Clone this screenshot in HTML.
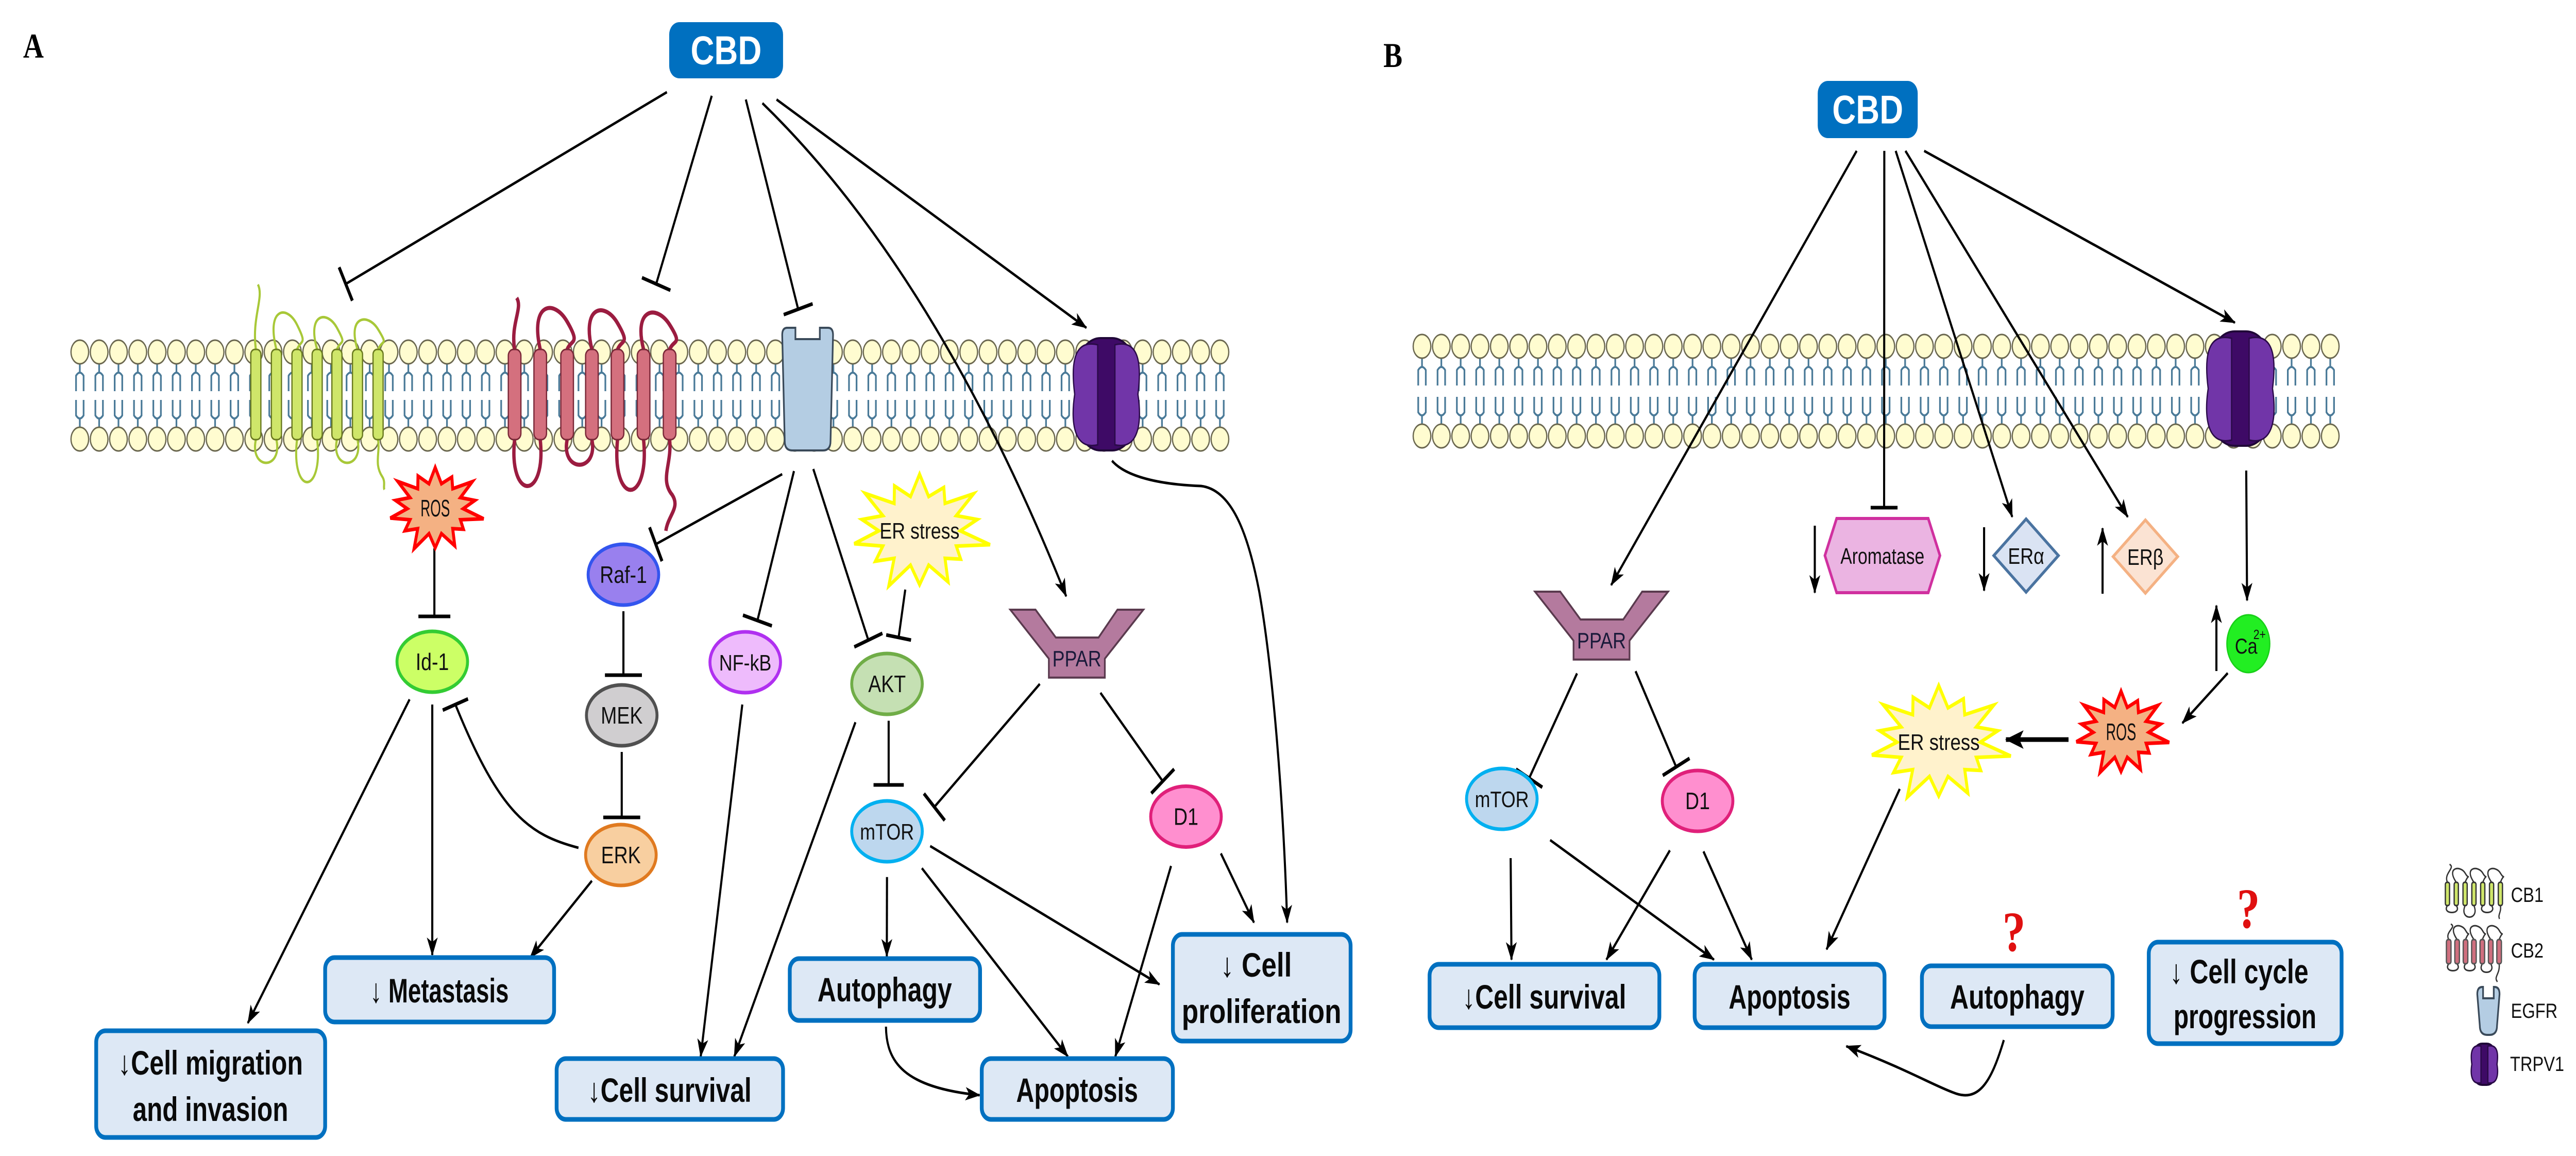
<!DOCTYPE html>
<html><head><meta charset="utf-8">
<style>
html,body{margin:0;padding:0;background:#fff;width:100%;height:100%;overflow:hidden;}
svg{display:block;width:100vw;height:100vh;}
text{font-family:"Liberation Sans Narrow","Liberation Sans",sans-serif;}
</style></head>
<body>
<svg id="s" xmlns="http://www.w3.org/2000/svg" viewBox="0 0 6132 2243" preserveAspectRatio="none">
<defs>
<marker id="ar" markerUnits="userSpaceOnUse" markerWidth="40" markerHeight="30" refX="34" refY="15" orient="auto">
<path d="M0,2 L36,15 L0,28 L9,15 z" fill="#000"/>
</marker>
<marker id="arB" markerUnits="userSpaceOnUse" markerWidth="48" markerHeight="40" refX="42" refY="20" orient="auto">
<path d="M0,2 L44,20 L0,38 L10,20 z" fill="#000"/>
</marker>
</defs>
<rect width="6132" height="2243" fill="#fff"/>
</svg>
<script>
const S=document.getElementById('s');const NS='http://www.w3.org/2000/svg';
function el(t,a,txt){const e=document.createElementNS(NS,t);for(const k in a)e.setAttribute(k,a[k]);if(txt!==undefined)e.textContent=txt;S.appendChild(e);return e;}
const A=(x,y)=>[x*1.977,y*1.43];
const B=(x,y)=>[3100+x*1.935,y*1.428];
const SW=5;
function arrow(p,q,big){el('line',{x1:p[0],y1:p[1],x2:q[0],y2:q[1],stroke:'#000','stroke-width':big?9:SW,'marker-end':big?'url(#arB)':'url(#ar)'});}
function tbar(q,dx,dy,h){const L=Math.hypot(dx,dy);const px=-dy/L*(h||36),py=dx/L*(h||36);
 el('line',{x1:q[0]+px,y1:q[1]+py,x2:q[0]-px,y2:q[1]-py,stroke:'#000','stroke-width':7});}
function tline(p,q,h){el('line',{x1:p[0],y1:p[1],x2:q[0],y2:q[1],stroke:'#000','stroke-width':SW});tbar(q,q[0]-p[0],q[1]-p[1],h);}
function node(c,label,fill,stroke,fs){el('ellipse',{cx:c[0],cy:c[1],rx:84,ry:59,fill:fill,stroke:stroke,'stroke-width':7});
 el('text',{x:c[0],y:c[1]+16,'font-size':fs||46,'text-anchor':'middle',fill:'#111'},label);}
function box(x0,y0,x1,y1,lines){el('rect',{x:x0,y:y0,width:x1-x0,height:y1-y0,rx:22,fill:'#dde8f5',stroke:'#0070c0','stroke-width':9});
 lines.forEach(l=>{const t=el('text',{x:l[0],y:l[1],'font-size':l[3]||66,'font-weight':'bold',fill:'#0a0a0a','text-anchor':'middle'},l[2]);if(l[4])t.setAttribute('textLength',l[4]),t.setAttribute('lengthAdjust','spacingAndGlyphs');});}
function burst(cx,cy,w,h,fill,stroke,label,fs,tl){const n=14;let pts=[];const jit=[1,.85,1.05,.9,1.1,.8,1,.95,1.08,.86,1.02,.9,1.06,.88];
 for(let i=0;i<2*n;i++){const a=-Math.PI/2+i*Math.PI/n;const r=i%2==0?jit[(i/2)%14]:0.62;pts.push((cx+Math.cos(a)*w/2*r).toFixed(1)+','+(cy+Math.sin(a)*h/2*r).toFixed(1));}
 el('polygon',{points:pts.join(' '),fill:fill,stroke:stroke,'stroke-width':7,'stroke-linejoin':'miter'});
 const t=el('text',{x:cx,y:cy+15,'font-size':fs,'text-anchor':'middle',fill:'#111'},label);if(tl){t.setAttribute('textLength',tl);t.setAttribute('lengthAdjust','spacingAndGlyphs');}}
function ppar(x0,y0,sx,sy){const P=[[160,100],[340,100],[485,262],[790,262],[925,100],[1110,100],[835,385],[835,495],[435,495],[435,385]];
 const pts=P.map(p=>(x0+(p[0]-160)/3*sx).toFixed(1)+','+(y0+(p[1]-100)/3*sy).toFixed(1)).join(' ');
 el('polygon',{points:pts,fill:'#b47a9e',stroke:'#5a3a4e','stroke-width':4});
 el('text',{x:x0+(635-160)/3*sx,y:y0+(430-100)/3*sy,'font-size':44,'text-anchor':'middle',fill:'#1a1a3a'},'PPAR');}
function membrane(x0,x1,yt,yb){
 for(let x=x0;x<=x1;x+=46){
  const st='#4a7a98';
  el('path',{d:`M${x},${yt+22} V${yt+40} M${x-9},${yt+76} V${yt+46} Q${x},${yt+34} ${x+9},${yt+46} V${yt+76}`,stroke:st,'stroke-width':4,fill:'none'});
  el('path',{d:`M${x},${yb-22} V${yb-40} M${x-9},${yb-76} V${yb-46} Q${x},${yb-34} ${x+9},${yb-46} V${yb-76}`,stroke:st,'stroke-width':4,fill:'none'});
  el('ellipse',{cx:x,cy:yt,rx:21,ry:23,fill:'#fffcd0',stroke:'#6b6850','stroke-width':3});
  el('ellipse',{cx:x,cy:yb,rx:21,ry:23,fill:'#fffcd0',stroke:'#6b6850','stroke-width':3});
 }}
function gpcr(xs,w,fill,hs,loop,lw,top,bot,upH,dnH,cterm){
 let d=`M${xs[0]},${top} C${xs[0]-10},${top-upH[0]*0.5} ${xs[0]+20},${top-upH[0]*0.8} ${xs[0]+5},${top-upH[0]}`;
 el('path',{d:d,stroke:loop,'stroke-width':lw,fill:'none'});
 for(let i=0;i<xs.length-1;i++){
  const a=xs[i],b=xs[i+1];
  if(i%2==0){const h=dnH[i/2];el('path',{d:`M${a},${bot} C${a-15},${bot+h} ${b+15},${bot+h} ${b},${bot}`,stroke:loop,'stroke-width':lw,fill:'none'});}
  else{const h=upH[(i+1)/2];el('path',{d:`M${a},${top} C${a-25},${top-h} ${(a+b)/2},${top-h*1.1} ${b},${top-h*0.6} S${b+10},${top-20} ${b},${top}`,stroke:loop,'stroke-width':lw,fill:'none'});}
 }
 el('path',{d:cterm,stroke:loop,'stroke-width':lw,fill:'none'});
 xs.forEach(x=>el('rect',{x:x-w/2,y:top,width:w,height:bot-top,rx:w/2.5,fill:fill,stroke:hs,'stroke-width':3}));
}
function egfr(x0,y0,x1,y1){const w=x1-x0;
 el('path',{d:`M${x0+12},${y0} H${x0+w*0.26} V${y0+22} H${x0+w*0.74} V${y0} H${x1-12} Q${x1},${y0} ${x1},${y0+14} L${x1-6},${y1-18} Q${x1-6},${y1} ${x1-24},${y1} H${x0+24} Q${x0+6},${y1} ${x0+6},${y1-18} L${x0},${y0+14} Q${x0},${y0} ${x0+12},${y0} Z`,fill:'#b4cde3',stroke:'#3a4a5a','stroke-width':4});}
function trpv(x0,y0,x1,y1){const w=x1-x0,h=y1-y0;
 el('rect',{x:x0+w*0.12,y:y0,width:w*0.76,height:h,rx:w*0.3,fill:'#3e0a66',stroke:'#200838','stroke-width':4});
 el('path',{d:`M${x0+w*0.38},${y0+h*0.06} C${x0},${y0} ${x0+w*0.02},${y0+h*0.3} ${x0+w*0.06},${y0+h*0.5} C${x0},${y0+h*0.75} ${x0+w*0.05},${y1} ${x0+w*0.38},${y1-h*0.05} Z`,fill:'#7135a8',stroke:'#2a0a48','stroke-width':3});
 el('path',{d:`M${x1-w*0.38},${y0+h*0.06} C${x1},${y0} ${x1-w*0.02},${y0+h*0.3} ${x1-w*0.06},${y0+h*0.5} C${x1},${y0+h*0.75} ${x1-w*0.05},${y1} ${x1-w*0.38},${y1-h*0.05} Z`,fill:'#7135a8',stroke:'#2a0a48','stroke-width':3});
}
function cbd(x0,y0,x1,y1){el('rect',{x:x0,y:y0,width:x1-x0,height:y1-y0,rx:24,fill:'#0070c0'});
 el('text',{x:(x0+x1)/2,y:(y0+y1)/2+27,'font-size':78,'font-weight':'bold','text-anchor':'middle',fill:'#fff'},'CBD');}

/* ============ PANEL A ============ */
el('text',{x:55,y:112,'font-size':68,'font-weight':'bold',style:'font-family:"Liberation Serif",serif',fill:'#000'},'A');
cbd(1593,43,1864,152);
membrane(190,2905,683,852);
gpcr([609,658,707,755,802,851,900],24,'#cfe66a','#6a7a20','#a8c838',5,678,853,[126,80,70,65],[60,110,60],
 'M900,853 C905,880 890,900 910,925 C918,935 912,945 915,950');
gpcr([1225,1286,1350,1409,1470,1532,1594],30,'#d4707e','#7a2838','#9b1c40',8,678,853,[100,90,85,80],[120,65,130],
 'M1594,853 C1600,900 1570,930 1600,960 C1620,985 1590,1000 1585,1030');
egfr(1862,636,1983,874);
trpv(2548,656,2719,874);

tline(A(803,125),[823,551]);
tline(A(857,130),[1562,551]);
tline(A(898,135),[1900,600]);
el('path',{d:`M${A(918,140)} Q2230,530 2538,1157`,stroke:'#000','stroke-width':SW,fill:'none','marker-end':'url(#ar)'});
arrow(A(935,135),[2586,636]);
tline([1034,1064],[1034,1196],38);
tline([1862,920],[1561,1056]);
tline([1484,1186],[1484,1310],44);
tline([1480,1459],[1480,1586],44);
el('path',{d:'M1377,1645 C1260,1620 1190,1580 1084,1367',stroke:'#000','stroke-width':SW,fill:'none'});
tbar([1084,1367],-40,-110,32);
arrow([1029,1367],[1029,1853]);
arrow([975,1357],[590,1985]);
arrow([1409,1709],[1262,1858]);
tline([1890,914],[1803,1204]);
arrow([1767,1367],[1668,2050]);
tline([1936,910],[2067,1242]);
tline(A(1090,800),A(1082,865),30);
arrow(A(1030,980),[1748,2050]);
tline(A(1070,978),A(1070,1065),36);
tline(A(1252,928),A(1125,1095));
tline(A(1325,940),A(1400,1060));
arrow(A(1068,1190),[2111,1856]);
arrow(A(1110,1178),[2542,2050]);
arrow(A(1120,1148),[2760,1910]);
arrow(A(1410,1175),[2655,2050]);
arrow(A(1470,1158),[2985,1790]);
el('path',{d:'M2647,894 C2680,925 2760,940 2859,943 C2930,950 2970,1030 2998,1150 C3030,1300 3055,1550 3064,1790',stroke:'#000','stroke-width':SW,fill:'none','marker-end':'url(#ar)'});
el('path',{d:'M2109,1992 C2110,2060 2150,2110 2332,2125',stroke:'#000','stroke-width':SW,fill:'none','marker-end':'url(#ar)'});

burst(1036,987,215,160,'#f4b183','#ff0000','ROS',46,70);
burst(2189,1030,313,220,'#fff2cc','#ffff00','ER stress',44,190);
node([1029,1284],'Id-1','#ccff66','#33cc33');
node([1484,1115],'Raf-1','#9980ee','#3355ee');
node([1480,1388],'MEK','#d0ced0','#505050');
node([1478,1659],'ERK','#f8cfa0','#e07a20');
node([1774,1285],'NF-kB','#eebbfc','#b030f0',44);
node(A(1068,928),'AKT','#c5e0b3','#70ad47');
node(A(1068,1128),'mTOR','#bdd7ee','#00b0f0',44);
node(A(1428,1108),'D1','#ff8fcf','#e0207a');
ppar(2405,1183,1,1);

box(774,1858,1319,1983,[[1046,1945,'↓ Metastasis',66,330]]);
box(229,2000,774,2207,[[501,2085,'↓Cell migration',66,440],[501,2175,'and invasion',66,370]]);
box(1325,2054,1864,2172,[[1594,2138,'↓Cell survival',66,390]]);
box(1880,1860,2333,1980,[[2106,1943,'Autophagy',66,320]]);
box(2337,2054,2792,2172,[[2564,2138,'Apoptosis',66,290]]);
box(2792,1813,3215,2020,[[2990,1895,'↓ Cell',66,170],[3003,1985,'proliferation',66,380]]);

/* ============ PANEL B ============ */
el('text',{x:3293,y:130,'font-size':68,'font-weight':'bold',style:'font-family:"Liberation Serif",serif',fill:'#000'},'B');
cbd(4327,157,4565,268);
membrane(3385,5577,672,846);
trpv(5246,643,5420,865);

arrow(B(682,205),B(380,795));
tline(B(716,205),[4485,985],32);
arrow(B(730,205),[4790,1003]);
arrow(B(742,205),[5065,1003]);
arrow(B(765,205),[5320,626]);
arrow([5347,913],[5349,1165]);
arrow([5303,1306],[5195,1403]);
arrow([4924,1435],[4775,1435],true);
arrow(B(735,1072),B(645,1290));
tline(B(338,915),[3640,1510]);
tline(B(410,912),[3990,1488]);
arrow([3596,1665],[3598,1862]);
arrow([3690,1630],[4080,1862]);
arrow([3975,1650],[3824,1862]);
arrow([4055,1652],[4170,1862]);
el('path',{d:'M4770,2018 C4740,2100 4710,2140 4650,2120 C4600,2105 4540,2075 4395,2030',stroke:'#000','stroke-width':SW,fill:'none','marker-end':'url(#ar)'});
arrow([4320,1020],[4320,1150]);
arrow([4723,1023],[4723,1146]);
arrow([5005,1152],[5005,1025]);
arrow([5276,1302],[5276,1175]);

el('polygon',{points:'4344,1078 4372,1006 4590,1006 4618,1078 4590,1150 4372,1150',fill:'#ebb4e2',stroke:'#d0309f','stroke-width':6});
el('text',{x:4481,y:1094,'font-size':44,'text-anchor':'middle',fill:'#111',textLength:200,lengthAdjust:'spacingAndGlyphs'},'Aromatase');
el('polygon',{points:'4823,1007 4900,1078 4823,1149 4746,1078',fill:'#dae3f3',stroke:'#4a73a0','stroke-width':6});
el('text',{x:4823,y:1094,'font-size':44,'text-anchor':'middle',fill:'#111'},'ERα');
el('polygon',{points:'5107,1009 5184,1080 5107,1151 5030,1080',fill:'#fbe3d3',stroke:'#f4b183','stroke-width':6});
el('text',{x:5107,y:1096,'font-size':44,'text-anchor':'middle',fill:'#111'},'ERβ');
el('ellipse',{cx:5352,cy:1249,rx:51,ry:56,fill:'#22ee22',stroke:'#18d018','stroke-width':3});
el('text',{x:5320,y:1268,'font-size':42,fill:'#111'},'Ca');
el('text',{x:5364,y:1240,'font-size':26,fill:'#111'},'2+');
burst(5049,1421,214,160,'#f4b183','#ff0000','ROS',46,72);
burst(4615,1440,320,220,'#fff2cc','#ffff00','ER stress',44,195);
ppar(3654,1148,1,1);
node([3575,1550],'mTOR','#bdd7ee','#00b0f0',44);
node([4041,1554],'D1','#ff8fcf','#e0207a');

box(3403,1871,3950,1994,[[3676,1957,'↓Cell survival',66,390]]);
box(4034,1871,4486,1994,[[4260,1957,'Apoptosis',66,290]]);
box(4575,1874,5029,1992,[[4802,1957,'Autophagy',66,320]]);
box(5115,1828,5574,2025,[[5330,1908,'↓ Cell cycle',66,330],[5344,1995,'progression',66,340]]);
el('text',{x:4794,y:1845,'font-size':110,'font-weight':'bold','text-anchor':'middle',fill:'#e01010',style:'font-family:"Liberation Serif",serif'},'?');
el('text',{x:5352,y:1800,'font-size':110,'font-weight':'bold','text-anchor':'middle',fill:'#e01010',style:'font-family:"Liberation Serif",serif'},'?');

(function(){
 const xs=[5826,5847,5868,5889,5910,5931,5952];
 gpcr(xs,10,'#cfe66a','#333','#333',3,1712,1757,[35,30,30,30],[18,30,18],'M5952,1757 C5955,1770 5945,1775 5950,1783');
 const xs2=[5829,5849,5869,5889,5909,5929,5949];
 gpcr(xs2,11,'#cf6f7e','#555','#333',3,1823,1870,[30,30,30,30],[18,18,22],'M5949,1870 C5952,1890 5935,1895 5945,1905');
 egfr(5897,1915,5950,2008);
 trpv(5880,2025,5948,2105);
 el('text',{x:5977,y:1750,'font-size':40,fill:'#111'},'CB1');
 el('text',{x:5977,y:1858,'font-size':40,fill:'#111'},'CB2');
 el('text',{x:5977,y:1975,'font-size':40,fill:'#111'},'EGFR');
 el('text',{x:5975,y:2078,'font-size':40,fill:'#111'},'TRPV1');
})();
</script>
</body></html>
